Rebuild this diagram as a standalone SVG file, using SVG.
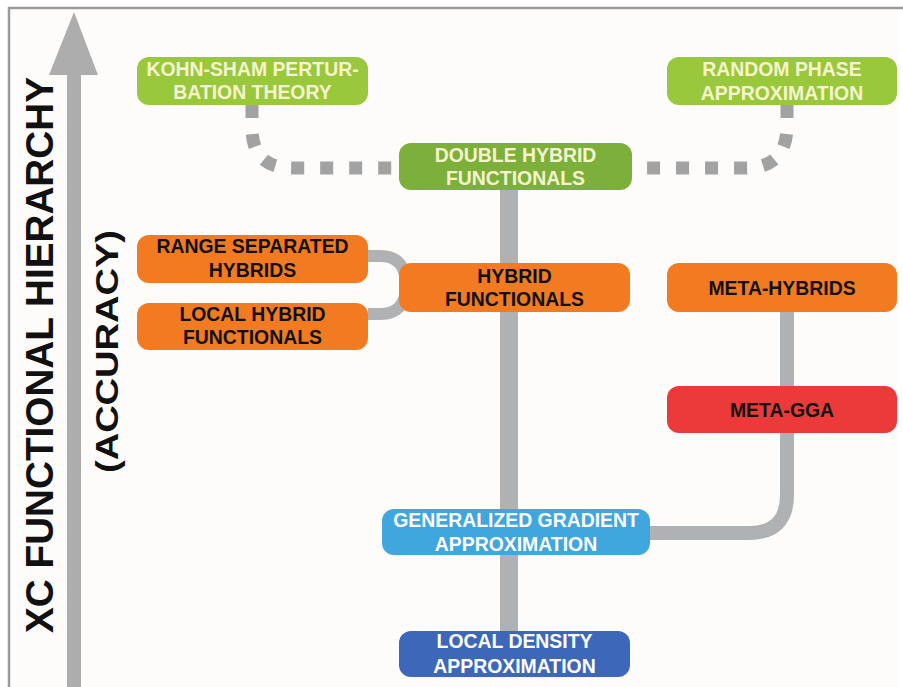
<svg xmlns="http://www.w3.org/2000/svg" width="903" height="687" viewBox="0 0 903 687">
  <style>
    .box { stroke: none; }
    .lbl { font-family: "Liberation Sans", Arial, sans-serif; font-weight: bold; font-size: 19.4px; text-anchor: middle; }
    .light { fill: #f6f4cf; }
    .dark { fill: #111111; }
    .white { fill: #ffffff; }
    .title { font-family: "Liberation Sans", Arial, sans-serif; font-weight: bold; fill: #111111; text-anchor: middle; }
    .solid { fill: none; stroke: #afb1b3; }
    .dotted { fill: none; stroke: #a2a2a2; stroke-width: 13; stroke-dasharray: 13 16; }
  </style>

  <!-- page and frame -->
  <rect x="0" y="0" width="903" height="687" fill="#ffffff"/>
  <rect x="9" y="8" width="889" height="679" fill="#fefcfb"/>
  <line x1="8" y1="8" x2="903" y2="8" stroke="#9b9b9b" stroke-width="2.5"/>
  <line x1="9" y1="7" x2="9" y2="687" stroke="#9b9b9b" stroke-width="2.5"/>

  <!-- vertical axis arrow -->
  <polygon points="74,12 98,75 81,75 81,687 67,687 67,75 49,75" fill="#adadad"/>

  <!-- axis titles -->
  <text class="title" font-size="38" textLength="556" lengthAdjust="spacingAndGlyphs" transform="translate(53,355) rotate(-90)">XC FUNCTIONAL HIERARCHY</text>
  <text class="title" font-size="32" textLength="243" lengthAdjust="spacingAndGlyphs" transform="translate(118,351.5) rotate(-90)">(ACCURACY)</text>

  <!-- connectors -->
  <g id="connectors">
    <path class="dotted" d="M252,105 V128 Q252,168 292,168 H399"/>
    <path class="dotted" d="M787,105 V126 Q787,168 745,168 H632"/>
    <path class="solid" stroke-width="18" d="M509,190 V631"/>
    <path class="solid" stroke-width="12" d="M368,256 H380 Q406,256 406,285 Q406,314 380,314 H368"/>
    <path class="solid" stroke-width="14" d="M787,312 V495 Q787,533 749,533 H650"/>
  </g>

  <!-- nodes -->
  <g id="kohn-sham-pt">
    <rect class="box" x="137" y="57" width="231" height="48" rx="12" fill="#99c83c"/>
    <text class="lbl light" x="252.5" y="76">KOHN-SHAM PERTUR-</text>
    <text class="lbl light" x="252.5" y="99">BATION THEORY</text>
  </g>
  <g id="rpa">
    <rect class="box" x="667" y="57" width="230" height="48" rx="12" fill="#99c83c"/>
    <text class="lbl light" x="782" y="76">RANDOM PHASE</text>
    <text class="lbl light" x="782" y="100">APPROXIMATION</text>
  </g>
  <g id="double-hybrid">
    <rect class="box" x="399" y="143" width="233" height="47" rx="12" fill="#7cb03a"/>
    <text class="lbl light" x="515.5" y="162">DOUBLE HYBRID</text>
    <text class="lbl light" x="515.5" y="185">FUNCTIONALS</text>
  </g>
  <g id="range-separated">
    <rect class="box" x="137" y="235" width="231" height="48" rx="12" fill="#f27b22"/>
    <text class="lbl dark" x="252.5" y="253">RANGE SEPARATED</text>
    <text class="lbl dark" x="252.5" y="277">HYBRIDS</text>
  </g>
  <g id="local-hybrid">
    <rect class="box" x="137" y="303" width="231" height="47" rx="12" fill="#f27b22"/>
    <text class="lbl dark" x="252.5" y="321">LOCAL HYBRID</text>
    <text class="lbl dark" x="252.5" y="344">FUNCTIONALS</text>
  </g>
  <g id="hybrid">
    <rect class="box" x="399" y="263" width="231" height="49" rx="12" fill="#f27b22"/>
    <text class="lbl dark" x="514.5" y="283">HYBRID</text>
    <text class="lbl dark" x="514.5" y="306">FUNCTIONALS</text>
  </g>
  <g id="meta-hybrids">
    <rect class="box" x="667" y="263" width="230" height="49" rx="12" fill="#f27b22"/>
    <text class="lbl dark" x="782" y="295">META-HYBRIDS</text>
  </g>
  <g id="meta-gga">
    <rect class="box" x="667" y="386" width="230" height="47" rx="12" fill="#ec3a3a"/>
    <text class="lbl dark" x="782" y="417">META-GGA</text>
  </g>
  <g id="gga">
    <rect class="box" x="382" y="509" width="268" height="46" rx="12" fill="#3fa6de"/>
    <text class="lbl white" x="516" y="527">GENERALIZED GRADIENT</text>
    <text class="lbl white" x="516" y="551">APPROXIMATION</text>
  </g>
  <g id="lda">
    <rect class="box" x="399" y="631" width="231" height="46" rx="12" fill="#3d68b9"/>
    <text class="lbl white" x="514.5" y="648">LOCAL DENSITY</text>
    <text class="lbl white" x="514.5" y="673">APPROXIMATION</text>
  </g>
</svg>
